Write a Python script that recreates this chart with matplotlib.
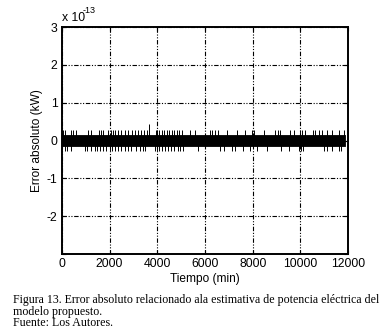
import numpy as np
import matplotlib
matplotlib.use('Agg')
from matplotlib import pyplot as plt
from matplotlib.ticker import FuncFormatter

# floating point error levels (kW)
ulp = 1.42e-14

# dense band of +-1 ulp from start to end of the record (min)
band_t = [0, 11860]
band_lo = [-ulp, -ulp]
band_hi = [ulp, ulp]

# spikes above the band (min, kW)
up_t = [42, 138, 365, 462, 600, 1091, 1230, 1540, 1624, 1720, 1930, 2043, 2140,
        2237, 2350, 2488, 2630, 2770, 2937, 3077, 3190, 3303, 3440, 3580, 3650,
        3957, 3973, 4070, 4183, 4293, 4393, 4490, 4603, 4712, 4813, 4910, 5023,
        5371, 5581, 6210, 6307, 6420, 6559, 6911, 7330, 7679, 7985, 8043, 8463,
        8950, 9063, 9160, 9580, 9722, 10000, 10071, 10210, 10519, 10630, 10772,
        10910, 11120, 11330, 11610, 11820]
up_v = [2.84e-14] * len(up_t)
up_v[up_t.index(3650)] = 4.26e-14

# spikes below the band
dn_t = [112, 224, 391, 951, 1063, 1230, 1370, 1482, 1580, 1720, 1860, 2000, 2098,
        2210, 2350, 2462, 2630, 2770, 2908, 3118, 3260, 3399, 3496, 3916, 3973,
        4070, 4183, 4322, 4435, 4574, 4712, 4854, 4951, 5090, 5694, 6630, 6810,
        7120, 7259, 7608, 7889, 8182, 8602, 9202, 9512, 9932, 10042, 10100,
        10981, 11120, 11330, 11610, 11719]
dn_v = [-2.84e-14] * len(dn_t)

xticks = [0, 2000, 4000, 6000, 8000, 10000, 12000]
yticks = [-3e-13, -2e-13, -1e-13, 0, 1e-13, 2e-13, 3e-13]

plt.rcParams['font.family'] = ['Liberation Sans', 'DejaVu Sans']

fig = plt.figure(figsize=(3.89, 3.35), dpi=100)
ax = fig.add_axes([0.159, 0.242, 0.736, 0.677])

ax.fill_between(band_t, band_lo, band_hi, color='black', lw=0.6)
ax.vlines(up_t, 0, up_v, color='black', lw=0.7)
ax.vlines(dn_t, 0, dn_v, color='black', lw=0.7)

ax.set_xlim(0, 12000)
ax.set_ylim(-3e-13, 3e-13)
ax.set_xticks(xticks)
ax.set_yticks(yticks)
ax.yaxis.set_major_formatter(FuncFormatter(
    lambda v, p: '' if round(v / 1e-13) == -3 else '%d' % round(v / 1e-13)))
ax.tick_params(direction='in', length=3, labelsize=8.8, pad=3, width=0.8)
ax.tick_params(top=True, right=True)
ax.grid(True, color='black', lw=0.8, linestyle=(0, (4, 1.5, 1, 1.5, 1, 1.5)))
for s in ax.spines.values():
    s.set_linewidth(1.4)

ax.set_xlabel('Tiempo (min)', fontsize=8.6, labelpad=2)
ax.set_ylabel('Error absoluto (kW)', fontsize=8.6, labelpad=3)
ax.text(0.0, 1.015, 'x 10', transform=ax.transAxes, fontsize=8.8, va='bottom')
ax.text(0.072, 1.055, '-13', transform=ax.transAxes, fontsize=6.5, va='bottom')

cap = ['Figura 13. Error absoluto relacionado ala estimativa de potencia eléctrica del',
       'modelo propuesto.',
       'Fuente: Los Autores.']
for i, line in enumerate(cap):
    fig.text(13 / 389, 1 - (300.5 + 11 * i) / 335, line, fontsize=8.6,
             family='Liberation Serif', va='center')

fig.savefig('out.png', dpi=100)
